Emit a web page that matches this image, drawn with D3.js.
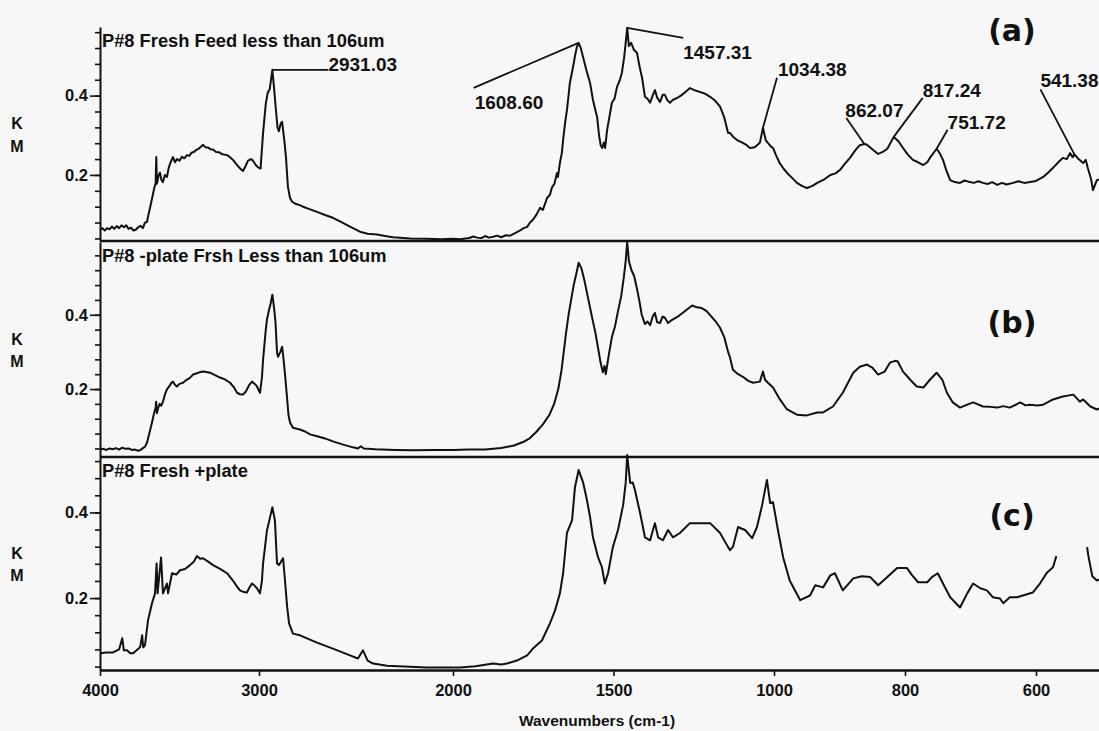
<!DOCTYPE html>
<html>
<head>
<meta charset="utf-8">
<script src="https://cdn.jsdelivr.net/npm/d3@7"></script>
<style>
  html, body { margin: 0; padding: 0; background: #f7f7f7; }
  svg { display: block; }
</style>
</head>
<body>
<svg id="chart" width="1099" height="731"></svg>
<script>
// ---- data ---------------------------------------------------------------
const panelTitles = [
  "P#8 Fresh Feed less than 106um",
  "P#8 -plate Frsh Less than 106um",
  "P#8 Fresh +plate"
];
const panelLetters = ["(a)", "(b)", "(c)"];
const wavenumberTicks = [4000, 3000, 2000, 1500, 1000, 800, 600];
const kmLabelTicks = [0.2, 0.4];
const peakWavenumbersA = [2931.03, 1608.60, 1457.31, 1034.38, 862.07, 817.24, 751.72, 541.38];

// Kubelka-Munk spectra: [wavenumber (cm-1), K-M units]
const spectrumA = [
  [4000,0.062],[3985,0.066],[3970,0.060],[3955,0.066],[3940,0.063],[3925,0.070],[3910,0.064],[3895,0.071],
  [3880,0.066],[3865,0.073],[3850,0.068],[3835,0.073],[3820,0.064],[3805,0.067],[3790,0.060],[3775,0.062],
  [3760,0.068],[3745,0.072],[3730,0.066],[3718,0.079],[3704,0.082],[3698,0.095],[3685,0.118],[3672,0.142],
  [3660,0.165],[3650,0.180],[3646,0.245],[3642,0.178],[3632,0.198],[3623,0.206],[3614,0.188],[3604,0.182],
  [3592,0.200],[3579,0.195],[3568,0.218],[3556,0.232],[3541,0.245],[3528,0.232],[3516,0.240],[3500,0.236],
  [3485,0.246],[3470,0.242],[3453,0.250],[3438,0.248],[3425,0.256],[3410,0.258],[3395,0.263],[3380,0.266],
  [3365,0.271],[3352,0.276],[3338,0.270],[3320,0.269],[3305,0.265],[3289,0.264],[3270,0.258],[3250,0.257],
  [3230,0.252],[3201,0.250],[3180,0.244],[3164,0.238],[3140,0.226],[3120,0.217],[3101,0.210],[3085,0.222],
  [3069,0.236],[3050,0.240],[3038,0.236],[3020,0.225],[3006,0.219],[2992,0.216],[2979,0.306],[2965,0.380],
  [2955,0.407],[2945,0.416],[2931.03,0.465],[2923,0.422],[2912,0.360],[2905,0.321],[2898,0.310],[2888,0.330],
  [2881,0.334],[2876,0.314],[2868,0.280],[2861,0.245],[2851,0.170],[2840,0.142],[2830,0.133],[2815,0.128],
  [2804,0.126],[2790,0.124],[2773,0.120],[2740,0.114],[2701,0.107],[2660,0.099],[2619,0.092],[2575,0.081],
  [2531,0.070],[2500,0.062],[2480,0.057],[2440,0.052],[2392,0.050],[2350,0.046],[2309,0.043],[2220,0.040],
  [2134,0.039],[2060,0.038],[2000,0.039],[1978,0.038],[1950,0.041],[1936,0.045],[1925,0.042],[1912,0.041],
  [1900,0.046],[1888,0.042],[1875,0.044],[1862,0.047],[1850,0.043],[1835,0.048],[1822,0.047],[1805,0.054],
  [1791,0.060],[1780,0.066],[1769,0.069],[1760,0.080],[1751,0.087],[1740,0.100],[1729,0.117],[1720,0.112],
  [1707,0.142],[1698,0.150],[1692,0.168],[1684,0.178],[1676,0.205],[1673,0.195],[1667,0.230],[1661,0.255],
  [1657,0.288],[1651,0.330],[1645,0.364],[1640,0.400],[1636,0.432],[1631,0.452],[1626,0.472],[1620,0.500],
  [1614,0.523],[1608.60,0.533],[1602,0.520],[1595,0.498],[1585,0.466],[1573,0.432],[1564,0.389],[1557,0.365],
  [1551,0.346],[1545,0.300],[1540,0.275],[1535,0.268],[1530,0.282],[1526,0.268],[1520,0.313],[1512,0.350],
  [1505,0.382],[1497,0.392],[1489,0.422],[1480,0.440],[1474,0.457],[1467,0.495],[1462,0.533],[1457.31,0.571],
  [1452,0.525],[1445,0.533],[1436,0.515],[1427,0.508],[1418,0.470],[1411,0.445],[1402,0.397],[1394,0.392],
  [1386,0.382],[1378,0.400],[1371,0.414],[1364,0.395],[1355,0.384],[1347,0.402],[1340,0.402],[1332,0.388],
  [1324,0.382],[1314,0.390],[1302,0.394],[1290,0.400],[1275,0.410],[1262,0.419],[1248,0.414],[1231,0.409],
  [1215,0.405],[1199,0.397],[1183,0.387],[1168,0.372],[1155,0.345],[1143,0.306],[1137,0.306],[1126,0.295],
  [1115,0.288],[1105,0.284],[1097,0.281],[1085,0.275],[1075,0.268],[1060,0.270],[1044,0.281],[1034.38,0.319],
  [1026,0.288],[1019,0.281],[1010,0.272],[1003,0.268],[997,0.250],[991,0.229],[985,0.215],[980,0.205],
  [972,0.192],[965,0.180],[958,0.173],[950,0.167],[942,0.172],[934,0.180],[924,0.188],[914,0.200],
  [906,0.204],[899,0.213],[892,0.228],[884,0.243],[876,0.262],[869,0.275],[862.07,0.278],[858,0.276],
  [850,0.265],[841,0.253],[834,0.258],[827,0.266],[817.24,0.296],[810,0.285],[803,0.268],[796,0.252],
  [788,0.238],[780,0.232],[772,0.225],[766,0.232],[762,0.243],[751.72,0.266],[747,0.255],[742,0.238],
  [737,0.212],[731,0.187],[724,0.182],[716,0.180],[709,0.186],[701,0.182],[695,0.180],[688,0.184],
  [681,0.180],[674,0.177],[667,0.182],[659,0.175],[652,0.180],[645,0.176],[635,0.180],[627,0.184],
  [618,0.180],[609,0.182],[600,0.185],[589,0.195],[580,0.208],[574,0.218],[566,0.232],[559,0.243],
  [553,0.240],[548,0.255],[544,0.245],[541.38,0.252],[535,0.240],[528,0.230],[524,0.238],[521,0.218],
  [516,0.190],[513,0.162],[510,0.175],[507,0.187],[500,0.190]
];

const spectrumB = [
  [4000,0.037],[3980,0.039],[3960,0.036],[3940,0.040],[3920,0.038],[3900,0.041],[3880,0.037],[3860,0.042],
  [3840,0.039],[3820,0.040],[3800,0.036],[3780,0.037],[3760,0.034],[3745,0.036],[3730,0.041],[3717,0.045],
  [3704,0.056],[3690,0.080],[3673,0.110],[3660,0.135],[3650,0.150],[3647,0.166],[3642,0.135],[3635,0.148],
  [3625,0.160],[3615,0.155],[3604,0.166],[3592,0.185],[3579,0.199],[3565,0.207],[3552,0.216],[3541,0.220],
  [3530,0.212],[3516,0.207],[3500,0.214],[3478,0.217],[3455,0.225],[3435,0.230],[3415,0.239],[3395,0.242],
  [3375,0.245],[3352,0.247],[3330,0.246],[3308,0.244],[3280,0.238],[3245,0.231],[3215,0.226],[3182,0.217],
  [3160,0.206],[3138,0.190],[3120,0.186],[3101,0.185],[3085,0.192],[3076,0.199],[3060,0.212],[3044,0.220],
  [3025,0.213],[3013,0.207],[2995,0.190],[2985,0.230],[2979,0.279],[2965,0.360],[2959,0.387],[2948,0.414],
  [2940,0.430],[2931.03,0.454],[2923,0.422],[2915,0.380],[2907,0.298],[2902,0.287],[2890,0.300],[2881,0.314],
  [2876,0.293],[2866,0.240],[2856,0.180],[2848,0.130],[2840,0.110],[2825,0.096],[2805,0.093],[2789,0.091],
  [2760,0.085],[2737,0.078],[2700,0.073],[2660,0.067],[2619,0.059],[2570,0.051],[2516,0.043],[2490,0.040],
  [2475,0.046],[2460,0.040],[2400,0.038],[2300,0.036],[2200,0.035],[2100,0.036],[2000,0.036],[1950,0.037],
  [1900,0.037],[1850,0.041],[1810,0.048],[1780,0.058],[1760,0.068],[1740,0.085],[1720,0.105],[1700,0.130],
  [1685,0.160],[1672,0.200],[1662,0.250],[1655,0.300],[1648,0.350],[1640,0.400],[1632,0.440],[1624,0.480],
  [1616,0.510],[1608.60,0.540],[1600,0.525],[1590,0.490],[1578,0.440],[1566,0.390],[1556,0.350],[1548,0.310],
  [1540,0.270],[1533,0.245],[1528,0.262],[1524,0.240],[1515,0.290],[1505,0.340],[1495,0.370],[1486,0.410],
  [1476,0.450],[1468,0.500],[1462,0.545],[1457.31,0.596],[1452,0.545],[1444,0.520],[1436,0.505],[1428,0.475],
  [1420,0.440],[1412,0.400],[1402,0.375],[1394,0.382],[1386,0.372],[1378,0.395],[1371,0.405],[1364,0.380],
  [1355,0.378],[1347,0.395],[1340,0.392],[1330,0.378],[1320,0.385],[1300,0.395],[1285,0.405],[1270,0.415],
  [1255,0.425],[1240,0.420],[1225,0.418],[1210,0.410],[1195,0.395],[1180,0.380],[1168,0.365],[1155,0.340],
  [1143,0.300],[1137,0.285],[1128,0.252],[1112,0.240],[1097,0.233],[1080,0.222],[1065,0.217],[1044,0.220],
  [1034.38,0.247],[1028,0.225],[1019,0.217],[1003,0.204],[991,0.172],[980,0.145],[965,0.131],[950,0.129],
  [934,0.137],[925,0.137],[910,0.153],[895,0.190],[879,0.244],[869,0.260],[858,0.266],[850,0.258],
  [841,0.239],[831,0.247],[823,0.271],[815,0.276],[811,0.274],[803,0.247],[792,0.225],[782,0.207],
  [772,0.204],[762,0.225],[751.72,0.244],[743,0.225],[736,0.190],[727,0.164],[716,0.150],[705,0.158],
  [696,0.164],[681,0.153],[670,0.152],[659,0.150],[650,0.154],[640,0.150],[624,0.164],[616,0.156],
  [609,0.158],[598,0.156],[589,0.158],[574,0.172],[559,0.180],[543,0.185],[533,0.166],[528,0.172],
  [517,0.153],[507,0.145],[500,0.150]
];

// the trace is interrupted between 569 and 522 cm-1 (null = no reading)
const spectrumC = [
  [4000,0.071],[3960,0.073],[3918,0.073],[3880,0.080],[3860,0.106],[3850,0.078],[3830,0.078],[3810,0.071],
  [3792,0.071],[3770,0.078],[3748,0.085],[3735,0.113],[3728,0.085],[3717,0.090],[3698,0.148],[3673,0.188],
  [3654,0.211],[3644,0.281],[3638,0.211],[3616,0.295],[3604,0.211],[3579,0.234],[3572,0.211],[3547,0.258],
  [3520,0.255],[3497,0.265],[3465,0.268],[3434,0.277],[3410,0.285],[3390,0.298],[3370,0.292],[3352,0.293],
  [3320,0.285],[3289,0.277],[3245,0.268],[3201,0.258],[3164,0.241],[3140,0.228],[3120,0.218],[3095,0.214],
  [3076,0.213],[3060,0.225],[3044,0.234],[3025,0.228],[3013,0.223],[2995,0.211],[2985,0.240],[2979,0.281],
  [2959,0.358],[2945,0.385],[2931.03,0.412],[2918,0.382],[2907,0.281],[2897,0.277],[2876,0.293],[2866,0.241],
  [2855,0.180],[2845,0.141],[2825,0.117],[2789,0.113],[2701,0.096],[2619,0.082],[2531,0.066],[2490,0.059],
  [2464,0.078],[2440,0.054],[2412,0.047],[2340,0.042],[2134,0.038],[1978,0.038],[1930,0.041],[1875,0.047],
  [1850,0.045],[1832,0.047],[1801,0.054],[1769,0.066],[1751,0.082],[1723,0.101],[1698,0.141],[1682,0.171],
  [1667,0.211],[1657,0.258],[1645,0.352],[1629,0.382],[1620,0.459],[1608.60,0.499],[1595,0.471],[1583,0.430],
  [1573,0.389],[1564,0.342],[1548,0.295],[1536,0.272],[1527,0.234],[1517,0.258],[1502,0.319],[1486,0.359],
  [1470,0.417],[1462,0.469],[1457.31,0.534],[1448,0.469],[1440,0.470],[1433,0.452],[1417,0.398],[1402,0.342],
  [1386,0.335],[1371,0.375],[1361,0.342],[1346,0.335],[1330,0.359],[1315,0.342],[1293,0.352],[1262,0.375],
  [1231,0.375],[1199,0.375],[1168,0.352],[1143,0.319],[1137,0.312],[1128,0.319],[1112,0.366],[1100,0.362],
  [1090,0.359],[1068,0.340],[1053,0.366],[1037,0.417],[1022,0.476],[1012,0.422],[1003,0.424],[994,0.359],
  [986,0.295],[976,0.241],[960,0.195],[945,0.206],[937,0.230],[925,0.225],[914,0.253],[907,0.258],
  [895,0.218],[879,0.246],[866,0.251],[853,0.249],[841,0.230],[827,0.249],[812,0.270],[797,0.270],
  [789,0.253],[780,0.237],[766,0.237],[759,0.249],[750,0.258],[742,0.234],[731,0.202],[716,0.178],
  [705,0.211],[696,0.234],[685,0.223],[675,0.218],[666,0.202],[655,0.199],[650,0.188],[640,0.202],
  [629,0.202],[620,0.206],[605,0.213],[594,0.234],[583,0.260],[574,0.272],[569,0.298],
  [545,null],
  [522,0.319],[520,0.298],[514,0.251],[507,0.241],[500,0.245]
];

// ---- layout -------------------------------------------------------------
const W = 1099, H = 731;
const FONT = "'Liberation Sans', Arial, Helvetica, sans-serif";
const INK = "#111";

const svg = d3.select("#chart");
svg.append("rect").attr("width", W).attr("height", H).attr("fill", "#f7f7f7");

// wavenumber axis is compressed above 3000 and 2000 cm-1, expanded below 1000 cm-1
const x = d3.scaleLinear()
  .domain([4000, 3000, 2000, 1000, 400])
  .range([100, 259, 453, 774, 1167]);

const panels = [
  { data: spectrumA, top: 27,  bottom: 241, yDomain: [0.0335, 0.573], letterY: 41 },
  { data: spectrumB, top: 242, bottom: 457, yDomain: [0.017, 0.596],  letterY: 333 },
  { data: spectrumC, top: 457, bottom: 670, yDomain: [0.032, 0.5295], letterY: 526 }
];

svg.append("defs").append("clipPath").attr("id", "plotClip")
  .append("rect").attr("x", 100).attr("y", 20).attr("width", W - 100).attr("height", 655);

panels.forEach((p, i) => {
  const y = d3.scaleLinear().domain(p.yDomain).range([p.bottom, p.top]);
  p.y = y;
  const g = svg.append("g");

  // minor ticks every 0.04
  const minor = d3.range(1, 15).map(k => +(k * 0.04).toFixed(2))
    .filter(v => v > p.yDomain[0] && v < p.yDomain[1]);
  g.append("g")
    .attr("transform", "translate(100,0)")
    .call(d3.axisLeft(y).tickValues(minor).tickSize(5).tickSizeOuter(0).tickFormat(""))
    .call(a => a.select(".domain").attr("stroke", INK).attr("stroke-width", 2))
    .call(a => a.selectAll(".tick line").attr("stroke", INK).attr("stroke-width", 1.6));

  // labelled ticks
  g.append("g")
    .attr("transform", "translate(100,0)")
    .call(d3.axisLeft(y).tickValues(kmLabelTicks).tickSize(10).tickSizeOuter(0)
      .tickPadding(2).tickFormat(d3.format(".1f")))
    .call(a => a.select(".domain").remove())
    .call(a => a.selectAll(".tick line").attr("stroke", INK).attr("stroke-width", 1.6))
    .call(a => a.selectAll(".tick text").attr("fill", INK)
      .style("font-family", FONT).style("font-size", "16.5px").style("font-weight", "bold"));

  // stacked K / M axis title
  const mid = (p.top + p.bottom) / 2;
  ["K", "M"].forEach((t, j) => {
    svg.append("text").text(t)
      .attr("x", 17).attr("y", mid - 5 + j * 22.5)
      .attr("text-anchor", "middle").attr("fill", INK)
      .style("font-family", FONT).style("font-size", "16px").style("font-weight", "bold");
  });

  // panel bottom rule (x axis of the lower panel carries labels)
  if (i < 2) {
    g.append("line")
      .attr("x1", 100).attr("x2", W).attr("y1", p.bottom).attr("y2", p.bottom)
      .attr("stroke", INK).attr("stroke-width", 2.6);
  }

  // spectrum trace
  const line = d3.line()
    .defined(d => d[1] != null)
    .x(d => x(d[0]))
    .y(d => y(d[1]));
  g.append("path")
    .datum(p.data)
    .attr("clip-path", "url(#plotClip)")
    .attr("fill", "none")
    .attr("stroke", INK)
    .attr("stroke-width", 2)
    .attr("stroke-linejoin", "round")
    .attr("d", line);

  // sample title
  svg.append("text").text(panelTitles[i])
    .attr("x", 102).attr("y", p.top + 19.5)
    .attr("fill", INK)
    .style("font-family", FONT).style("font-size", "18.3px").style("font-weight", "bold");

  // panel letter
  svg.append("text").text(panelLetters[i])
    .attr("x", 1012).attr("y", p.letterY)
    .attr("text-anchor", "middle").attr("fill", INK)
    .style("font-family", "'DejaVu Sans', Verdana, sans-serif")
    .style("font-size", "30px").style("font-weight", "bold");
});

// bottom wavenumber axis
svg.append("g")
  .attr("transform", `translate(0,${panels[2].bottom})`)
  .call(d3.axisBottom(x).tickValues(wavenumberTicks).tickSize(6).tickSizeOuter(0)
    .tickPadding(8).tickFormat(d3.format("d")))
  .call(a => a.select(".domain").attr("stroke", INK).attr("stroke-width", 2.6))
  .call(a => a.selectAll(".tick line").attr("stroke", INK).attr("stroke-width", 1.6))
  .call(a => a.selectAll(".tick text").attr("fill", INK)
    .style("font-family", FONT).style("font-size", "16.5px").style("font-weight", "bold"));

svg.append("text").text("Wavenumbers (cm-1)")
  .attr("x", 597).attr("y", 726).attr("text-anchor", "middle").attr("fill", INK)
  .style("font-family", FONT).style("font-size", "15.5px").style("font-weight", "bold");

// peak annotations on the top spectrum: leader end offset and text offset from the peak
const peakLabelOffsets = [
  { lx: 56,  ly: 0,   tx: 56,  ty: 1 },
  { lx: -105, ly: 45, tx: -104, ty: 66 },
  { lx: 56,  ly: 10,  tx: 56,  ty: 31 },
  { lx: 14,  ly: -50, tx: 15,  ty: -52 },
  { lx: -18, ly: -26, tx: -19, ty: -27 },
  { lx: 29,  ly: -39, tx: 29,  ty: -40 },
  { lx: 11,  ly: -19, tx: 11,  ty: -20 },
  { lx: -34, ly: -65, tx: -34, ty: -67 }
];
const yA = panels[0].y;
const ann = svg.append("g");
peakWavenumbersA.forEach((wn, k) => {
  const pt = spectrumA.find(d => d[0] === wn);
  const px = x(wn), py = yA(pt[1]);
  const o = peakLabelOffsets[k];
  ann.append("line")
    .attr("x1", px).attr("y1", py).attr("x2", px + o.lx).attr("y2", py + o.ly)
    .attr("stroke", INK).attr("stroke-width", 1.8);
  ann.append("text").text(d3.format(".2f")(wn))
    .attr("x", px + o.tx).attr("y", py + o.ty)
    .attr("fill", INK)
    .style("font-family", FONT).style("font-size", "19px").style("font-weight", "bold");
});
</script>
</body>
</html>
